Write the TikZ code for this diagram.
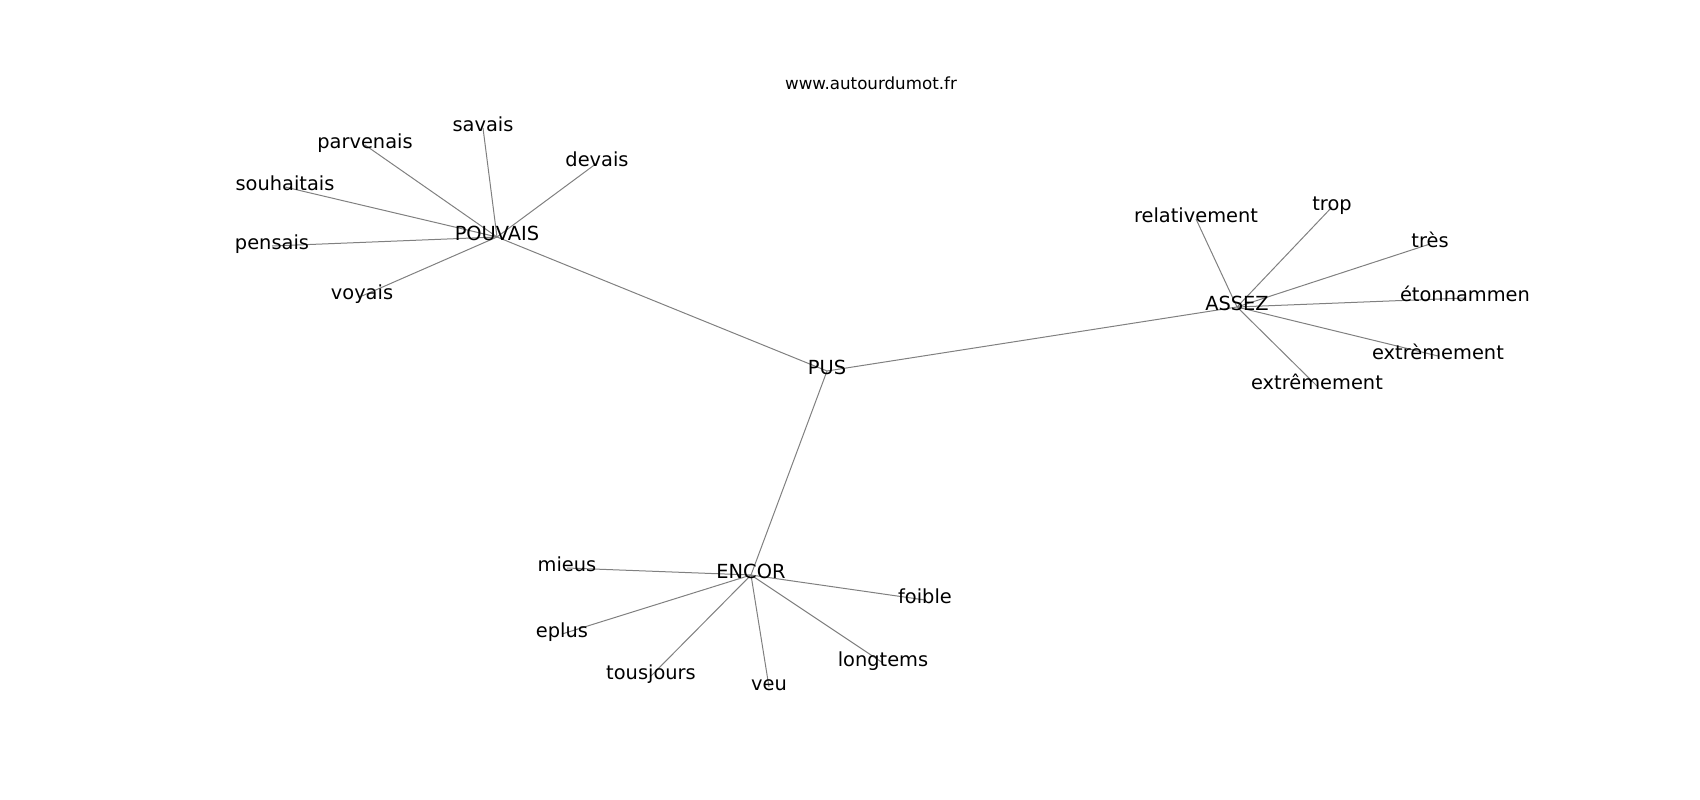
\documentclass[tikz,border=0pt]{standalone}
\usepackage{fontspec}
\setmainfont{DejaVu Sans}
\usepackage{tikz}
\usetikzlibrary{backgrounds}
\tikzset{
  WORD/.style={% Style for the word labels
      inner sep=0pt,
      anchor=center,
      text=black,
      font=\fontsize{19.4}{23}\selectfont,
      text height=.73em,
      text depth=0pt,
  },
  TITLE/.style={% Style for the site name
      inner sep=0pt,
      text=black,
      font=\fontsize{16.7}{20}\selectfont,
  },
  EDGE/.style={
      draw=gray,
      line width=1pt,
  }
}
\begin{document}
\begin{tikzpicture}[x=1pt,y=-1pt]
  \useasboundingbox (0,0) rectangle (1700,800);
  \node[TITLE] (site) at (871,83) {www.autourdumot.fr};
  % centre and hubs
  \node[WORD] (PUS) at (827,371) {PUS};
  \node[WORD] (POUVAIS) at (497,237) {POUVAIS};
  \node[WORD] (ASSEZ) at (1237,307) {ASSEZ};
  \node[WORD] (ENCOR) at (751,575) {ENCOR};
  % leaves of POUVAIS
  \node[WORD] (savais) at (483,128) {savais};
  \node[WORD] (parvenais) at (365,145) {parvenais};
  \node[WORD] (devais) at (597,163) {devais};
  \node[WORD] (souhaitais) at (285,187) {souhaitais};
  \node[WORD] (pensais) at (272,246) {pensais};
  \node[WORD] (voyais) at (362,296) {voyais};
  % leaves of ASSEZ
  \node[WORD] (relativement) at (1196,219) {relativement};
  \node[WORD] (trop) at (1332,207) {trop};
  \node[WORD] (tres) at (1430,244) {très};
  \node[WORD] (etonnammen) at (1465,298) {étonnammen};
  \node[WORD] (extremementA) at (1438,356) {extrèmement};
  \node[WORD] (extremementB) at (1317,386) {extrêmement};
  % leaves of ENCOR
  \node[WORD] (mieus) at (567,568) {mieus};
  \node[WORD] (foible) at (925,600) {foible};
  \node[WORD] (eplus) at (562,634) {eplus};
  \node[WORD] (tousjours) at (651,676) {tousjours};
  \node[WORD] (veu) at (769,687) {veu};
  \node[WORD] (longtems) at (883,663) {longtems};
  \begin{scope}[on background layer]
    \foreach \hub in {POUVAIS, ASSEZ, ENCOR}
      \draw[EDGE] (PUS.center) -- (\hub.center);
    \foreach \leaf in {savais, parvenais, devais, souhaitais, pensais, voyais}
      \draw[EDGE] (POUVAIS.center) -- (\leaf.center);
    \foreach \leaf in {relativement, trop, tres, etonnammen, extremementA, extremementB}
      \draw[EDGE] (ASSEZ.center) -- (\leaf.center);
    \foreach \leaf in {mieus, foible, eplus, tousjours, veu, longtems}
      \draw[EDGE] (ENCOR.center) -- (\leaf.center);
  \end{scope}
\end{tikzpicture}
\end{document}
